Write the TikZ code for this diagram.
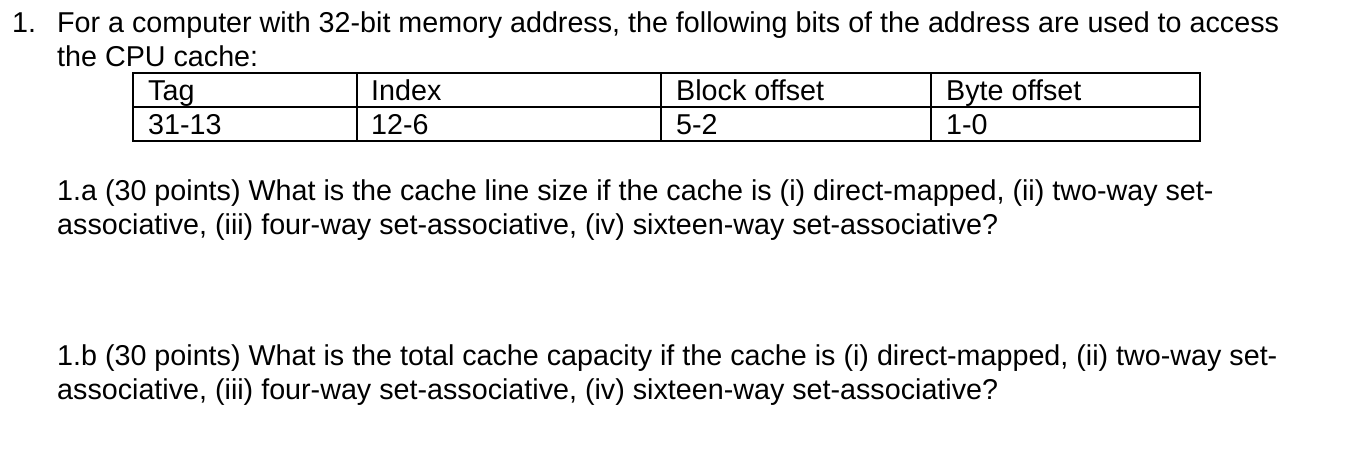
\documentclass[tikz,border=0pt]{standalone}
\usepackage{fontspec}
\setmainfont{Liberation Sans}
\begin{document}
\begin{tikzpicture}[x=1pt,y=-1pt,
    txt/.style={anchor=base west,inner sep=0pt,font=\fontsize{28.7}{33}\selectfont},
    cell/.style={txt}]
    \useasboundingbox (0,0) rectangle (1345,461);
    % heading
    \node[txt] (NUM) at (12,32) {1.};
    \node[txt] (LINEA) at (57,32) {For a computer with 32-bit memory address, the following bits of the address are used to access};
    \node[txt] (LINEB) at (57,66) {the CPU cache:};
    % table
    \draw[line width=1.2pt] (133,73) rectangle (1200,141);
    \draw[line width=1.2pt] (133,107) -- (1200,107);
    \foreach \x in {357,661,931} \draw[line width=1.2pt] (\x,73) -- (\x,141);
    \node[cell] (TAG) at (148,100) {Tag};
    \node[cell] (INDEX) at (371,100) {Index};
    \node[cell] (BLOCK) at (676,100) {Block offset};
    \node[cell] (BYTE) at (946,100) {Byte offset};
    \node[cell] (TAGB) at (148,134) {31-13};
    \node[cell] (INDEXB) at (371,134) {12-6};
    \node[cell] (BLOCKB) at (676,134) {5-2};
    \node[cell] (BYTEB) at (946,134) {1-0};
    % questions
    \node[txt] (QA) at (57,200) {1.a (30 points) What is the cache line size if the cache is (i) direct-mapped, (ii) two-way set-};
    \node[txt] (QAB) at (57,234) {associative, (iii) four-way set-associative, (iv) sixteen-way set-associative?};
    \node[txt] (QB) at (57,365) {1.b (30 points) What is the total cache capacity if the cache is (i) direct-mapped, (ii) two-way set-};
    \node[txt] (QBB) at (57,399) {associative, (iii) four-way set-associative, (iv) sixteen-way set-associative?};
\end{tikzpicture}
\end{document}
